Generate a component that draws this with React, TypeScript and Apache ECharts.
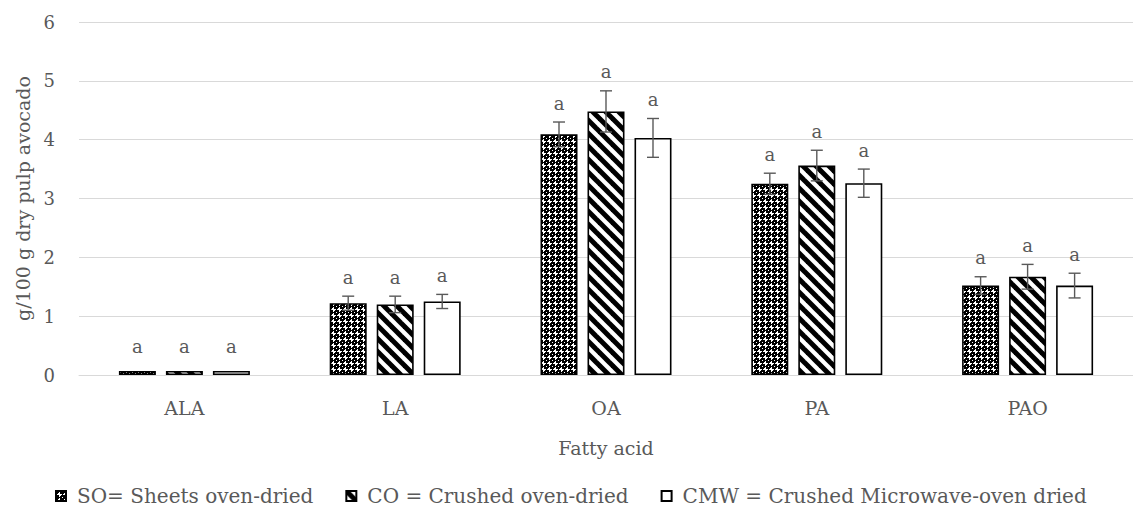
import React, { useEffect, useRef } from "react";
import * as echarts from "echarts";

const categories = ["ALA", "LA", "OA", "PA", "PAO"];
const seriesNames = [
  "SO= Sheets oven-dried",
  "CO = Crushed oven-dried",
  "CMW = Crushed Microwave-oven dried",
];
const soValues = [0.07, 1.22, 4.09, 3.25, 1.52];
const coValues = [0.07, 1.2, 4.48, 3.56, 1.67];
const cmwValues = [0.07, 1.25, 4.03, 3.26, 1.52];
const soErrors = [0.01, 0.12, 0.21, 0.18, 0.15];
const coErrors = [0.01, 0.14, 0.35, 0.26, 0.21];
const cmwErrors = [0.01, 0.12, 0.33, 0.24, 0.21];
const soLetters = ["a", "a", "a", "a", "a"];
const coLetters = ["a", "a", "a", "a", "a"];
const cmwLetters = ["a", "a", "a", "a", "a"];
const yTicks = [0, 1, 2, 3, 4, 5, 6];

const FONT = "'DejaVu Serif', serif";
const TEXT = "#595959";
const BAR_W = 37;
const BAR_GAP = 10;

function makeCrossPattern(): HTMLCanvasElement {
  const c = document.createElement("canvas");
  c.width = 6;
  c.height = 6;
  const ctx = c.getContext("2d")!;
  ctx.fillStyle = "#000";
  ctx.fillRect(0, 0, 6, 6);
  ctx.fillStyle = "#fff";
  ctx.fillRect(1, 3, 5, 1);
  ctx.fillRect(3, 1, 1, 5);
  ctx.fillRect(0, 0, 1, 1);
  ctx.fillRect(2, 2, 1, 1);
  ctx.fillRect(4, 4, 1, 1);
  return c;
}

function makeStripePattern(): HTMLCanvasElement {
  const s = 13;
  const c = document.createElement("canvas");
  c.width = s;
  c.height = s;
  const ctx = c.getContext("2d")!;
  ctx.fillStyle = "#fff";
  ctx.fillRect(0, 0, s, s);
  ctx.strokeStyle = "#000";
  ctx.lineWidth = 5;
  for (const k of [-s, 0, s]) {
    ctx.beginPath();
    ctx.moveTo(k - 2, -2);
    ctx.lineTo(k + s + 2, s + 2);
    ctx.stroke();
  }
  return c;
}

export default function App() {
  const ref = useRef<HTMLDivElement>(null);

  useEffect(() => {
    if (!ref.current) return;
    const chart = echarts.init(ref.current, undefined, { renderer: "svg" });
    const cross = makeCrossPattern();
    const stripe = makeStripePattern();
    const fills: any[] = [
      { image: cross, repeat: "repeat", imageWidth: 6, imageHeight: 6 },
      { image: stripe, repeat: "repeat", imageWidth: 13, imageHeight: 13 },
      "#ffffff",
    ];
    const values = [soValues, coValues, cmwValues];
    const errors = [soErrors, coErrors, cmwErrors];
    const letters = [soLetters, coLetters, cmwLetters];

    const errData: any[] = [];
    values.forEach((vals, si) => {
      vals.forEach((v, ci) => {
        errData.push([ci, v, errors[si][ci], si, letters[si][ci]]);
      });
    });

    const barSeries = seriesNames.map((name, i) => ({
      name,
      type: "bar",
      data: values[i],
      barWidth: BAR_W,
      barGap: (BAR_GAP / BAR_W) * 100 + "%",
      itemStyle: {
        color: fills[i],
        borderColor: "#000",
        borderWidth: 1.6,
      },
    }));

    const option: any = {
      animation: false,
      backgroundColor: "#fff",
      textStyle: { fontFamily: FONT },
      grid: { left: 79, top: 22, width: 1061, height: 353, containLabel: false },
      legend: {
        data: seriesNames,
        left: 55,
        top: 486,
        padding: 0,
        itemWidth: 10,
        itemHeight: 10,
        itemGap: 32,
        icon: "rect",
        textStyle: {
          color: TEXT,
          fontSize: 20,
          fontFamily: FONT,
          padding: [0, 0, 0, 6],
        },
      },
      xAxis: {
        type: "category",
        data: categories,
        name: "Fatty acid",
        nameLocation: "middle",
        nameGap: 63,
        nameTextStyle: { color: TEXT, fontSize: 19, fontFamily: FONT },
        axisLine: { show: true, lineStyle: { color: "#d9d9d9", width: 1 } },
        axisTick: { show: false },
        axisLabel: { color: TEXT, fontSize: 19, fontFamily: FONT, margin: 23 },
      },
      yAxis: {
        type: "value",
        min: 0,
        max: 6,
        interval: 1,
        name: "g/100 g dry pulp avocado",
        nameLocation: "middle",
        nameGap: 45,
        nameTextStyle: { color: TEXT, fontSize: 19, fontFamily: FONT },
        axisLine: { show: false },
        axisTick: { show: false },
        splitLine: { lineStyle: { color: "#d9d9d9", width: 1 } },
        axisLabel: {
          color: TEXT,
          fontSize: 18,
          fontFamily: FONT,
          margin: 24,
          formatter: (v: number) => (yTicks.includes(v) ? String(v) : ""),
        },
      },
      series: [
        ...barSeries,
        {
          type: "custom",
          name: "errors",
          data: errData,
          z: 10,
          encode: { x: 0, y: 1 },
          renderItem: (params: any, api: any) => {
            const ci = api.value(0);
            const v = api.value(1);
            const e = api.value(2);
            const si = api.value(3);
            const letter = errData[params.dataIndex][4];
            const offset = (si - 1) * (BAR_W + BAR_GAP);
            const top = api.coord([ci, v + e]);
            const bot = api.coord([ci, Math.max(0, v - e)]);
            const x = top[0] + offset;
            const cap = 6;
            const st = { stroke: TEXT, lineWidth: 1.4 };
            const children: any[] = [];
            if (e > 0.02) {
              children.push(
                { type: "line", shape: { x1: x, y1: top[1], x2: x, y2: bot[1] }, style: st },
                { type: "line", shape: { x1: x - cap, y1: top[1], x2: x + cap, y2: top[1] }, style: st },
                { type: "line", shape: { x1: x - cap, y1: bot[1], x2: x + cap, y2: bot[1] }, style: st }
              );
            }
            children.push({
              type: "text",
              x: x,
              y: top[1] - (e > 0.02 ? 19 : 24),
              style: {
                text: letter,
                fill: TEXT,
                font: "18px " + FONT,
                align: "center",
                verticalAlign: "middle",
              },
            });
            return { type: "group", children };
          },
        },
      ],
    };
    chart.setOption(option);
    return () => chart.dispose();
  }, []);

  return (
    <div
      ref={ref}
      style={{ position: "absolute", left: 0, top: 0, width: 1133, height: 508, background: "#fff" }}
    />
  );
}
